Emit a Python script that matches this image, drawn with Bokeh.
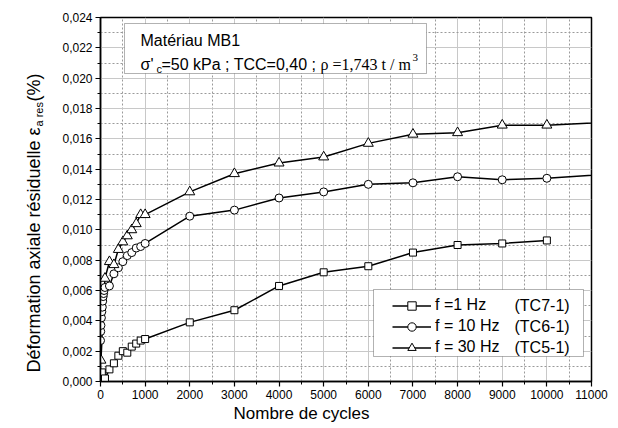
from math import pi
from bokeh.plotting import figure
from bokeh.layouts import row
from bokeh.models import (Range1d, SingleIntervalTicker, CustomJSTickFormatter, Label,
                          BoxAnnotation, Legend, LegendItem, Title)
from bokeh.embed import file_html
from bokeh.resources import INLINE

# ---- data ----
cycles_1hz = [1, 30, 100, 200, 300, 400, 500, 600, 700, 800, 900, 1000,
              2000, 3000, 4000, 5000, 6000, 7000, 8000, 9000, 10000]
eps_1hz = [0.0001, 0.0006, 0.0002, 0.0008, 0.0012, 0.0017, 0.0020, 0.0019, 0.0023, 0.0025, 0.0027, 0.0028,
           0.0039, 0.0047, 0.0063, 0.0072, 0.0076, 0.0085, 0.0090, 0.0091, 0.0093]

cycles_10hz = [1, 5, 10, 20, 30, 40, 50, 60, 70, 80, 100, 200, 300, 400, 500, 600, 700, 800, 900, 1000,
               2000, 3000, 4000, 5000, 6000, 7000, 8000, 9000, 10000, 12000]
eps_10hz = [0.0027, 0.0033, 0.0037, 0.0042, 0.0046, 0.0049, 0.0053, 0.0056, 0.0058, 0.0060, 0.0062,
            0.0063, 0.0071, 0.0075, 0.0079, 0.0083, 0.0085, 0.0088, 0.0089, 0.0091,
            0.0109, 0.0113, 0.0121, 0.0125, 0.0130, 0.0131, 0.0135, 0.0133, 0.0134, 0.0138]

cycles_30hz = [10, 100, 200, 300, 400, 500, 600, 700, 800, 900, 1000,
               2000, 3000, 4000, 5000, 6000, 7000, 8000, 9000, 10000, 12000]
eps_30hz = [0.0014, 0.0068, 0.0079, 0.0077, 0.0087, 0.0092, 0.0096, 0.0100, 0.0104, 0.0110, 0.0110,
            0.0125, 0.0137, 0.0144, 0.0148, 0.0157, 0.0163, 0.0164, 0.0169, 0.0169, 0.0172]

series_labels = ["f =1 Hz", "f = 10 Hz", "f = 30 Hz"]
series_tests = ["(TC7-1)", "(TC6-1)", "(TC5-1)"]

FONT = "Liberation Sans"
LEFT_W = 58  # width of the strip carrying the y-axis title

p = figure(width=618 - LEFT_W, height=428, x_range=Range1d(0, 11000), y_range=Range1d(0, 0.024),
           output_backend="svg", toolbar_location=None,
           min_border_left=100 - LEFT_W, min_border_right=27, min_border_top=17, min_border_bottom=47)
p.background_fill_color = "white"
p.border_fill_color = "white"
p.outline_line_color = "black"
p.outline_line_width = 1.5

xt = SingleIntervalTicker(interval=1000, num_minor_ticks=2)
yt = SingleIntervalTicker(interval=0.002, num_minor_ticks=2)
p.xaxis.ticker = xt
p.yaxis.ticker = yt
p.xgrid.ticker = xt
p.ygrid.ticker = yt
p.yaxis.formatter = CustomJSTickFormatter(code="return tick.toFixed(3).replace('.', ',');")

for ax in (p.xaxis, p.yaxis):
    ax.axis_line_color = "black"
    ax.axis_line_width = 1.5
    ax.major_tick_line_color = "black"
    ax.minor_tick_line_color = "black"
    ax.major_tick_line_width = 1.2
    ax.major_tick_out = 5
    ax.major_tick_in = 0
    ax.minor_tick_out = 3
    ax.minor_tick_in = 0
    ax.major_label_text_font = FONT
    ax.major_label_text_font_size = "12px"
    ax.major_label_text_color = "black"
    ax.major_label_standoff = 3

for g in (p.xgrid, p.ygrid):
    g.grid_line_color = "#c8c8c8"
    g.grid_line_width = 1
    g.minor_grid_line_color = "#9a9a9a"
    g.minor_grid_line_width = 1
    g.minor_grid_line_dash = "2 2"

# ---- series ----
l1 = p.line(cycles_1hz, eps_1hz, line_color="black", line_width=1.5)
l2 = p.line(cycles_10hz, eps_10hz, line_color="black", line_width=1.5)
l3 = p.line(cycles_30hz, eps_30hz, line_color="black", line_width=1.5)
s1 = p.scatter(cycles_1hz, eps_1hz, marker="square", size=7, fill_color="white", line_color="black", line_width=1)
s2 = p.scatter(cycles_10hz, eps_10hz, marker="circle", size=8, fill_color="white", line_color="black", line_width=1)
s3 = p.scatter(cycles_30hz, eps_30hz, marker="triangle", size=10, fill_color="white", line_color="black", line_width=1)

# ---- legend (box + items) ----
legend_box = BoxAnnotation(left=273, right=483, top=92, bottom=25,
                           left_units="screen", right_units="screen", top_units="screen", bottom_units="screen",
                           fill_color="white", fill_alpha=1, line_color="black", line_width=1)
p.add_layout(legend_box)
legend = Legend(items=[LegendItem(label=series_labels[0], renderers=[l1, s1]),
                       LegendItem(label=series_labels[1], renderers=[l2, s2]),
                       LegendItem(label=series_labels[2], renderers=[l3, s3])],
                location=(292, 23.5), padding=0, spacing=0, margin=0,
                label_height=21, glyph_height=21, glyph_width=39, label_standoff=4,
                label_text_font=FONT, label_text_font_size="16px", label_text_color="black",
                background_fill_alpha=0, border_line_color=None)
p.add_layout(legend)
for i, t in enumerate(series_tests):
    p.add_layout(Label(x=414, y=381 - (305 + 21 * i), x_units="screen", y_units="screen", text=t,
                       text_font=FONT, text_font_size="16px", text_color="black",
                       text_baseline="middle", text_align="left"))

# ---- material annotation box ----
info_box = BoxAnnotation(left=24, right=326, top=358, bottom=308,
                         left_units="screen", right_units="screen", top_units="screen", bottom_units="screen",
                         fill_color="white", fill_alpha=1, line_color="black", line_width=1)
p.add_layout(info_box)


def lab(fig, x, y, text, size="16px", font=FONT, angle=0, align="left", baseline="alphabetic",
        x0=100, y0=381):
    fig.add_layout(Label(x=x - x0, y=y0 - y, x_units="screen", y_units="screen", text=text,
                         text_font=font, text_font_size=size, text_color="black", angle=angle,
                         text_align=align, text_baseline=baseline))


lab(p, 140, 40, "Matériau MB1")
lab(p, 140, 64, "σ'")
lab(p, 156, 68.5, "c", size="11px")
lab(p, 161, 64, "=50 kPa ; TCC=0,40 ; ")
lab(p, 320, 64, "ρ =1,743 t / m", font="Liberation Serif")
lab(p, 412, 57, "3", size="11px", font="Liberation Serif")

# ---- x-axis title ----
p.add_layout(Title(text="Nombre de cycles", align="left", offset=133, standoff=0,
                   text_font=FONT, text_font_size="17px", text_font_style="normal",
                   text_color="black"), "below")

# ---- y-axis title strip (its frame is aligned with the main frame: 17..381) ----
q = figure(width=LEFT_W, height=428, x_range=Range1d(0, 1), y_range=Range1d(0, 1),
           output_backend="svg", toolbar_location=None, x_axis_type=None, y_axis_type=None,
           min_border=0, min_border_left=0, min_border_right=0, min_border_top=17, min_border_bottom=47)
q.outline_line_color = None
q.background_fill_color = "white"
q.border_fill_color = "white"
q.xgrid.visible = False
q.ygrid.visible = False

lab(q, 33, 372, "Déformation axiale résiduelle ε", size="18px", angle=pi / 2, x0=0, y0=381,
    baseline="middle")
lab(q, 38, 126, "a res", size="11px", angle=pi / 2, x0=0, y0=381, baseline="middle")
lab(q, 33, 101, " (%)", size="18px", angle=pi / 2, x0=0, y0=381, baseline="middle")

layout = row(q, p, spacing=0)
open("out.html", "w").write(file_html(layout, INLINE))
